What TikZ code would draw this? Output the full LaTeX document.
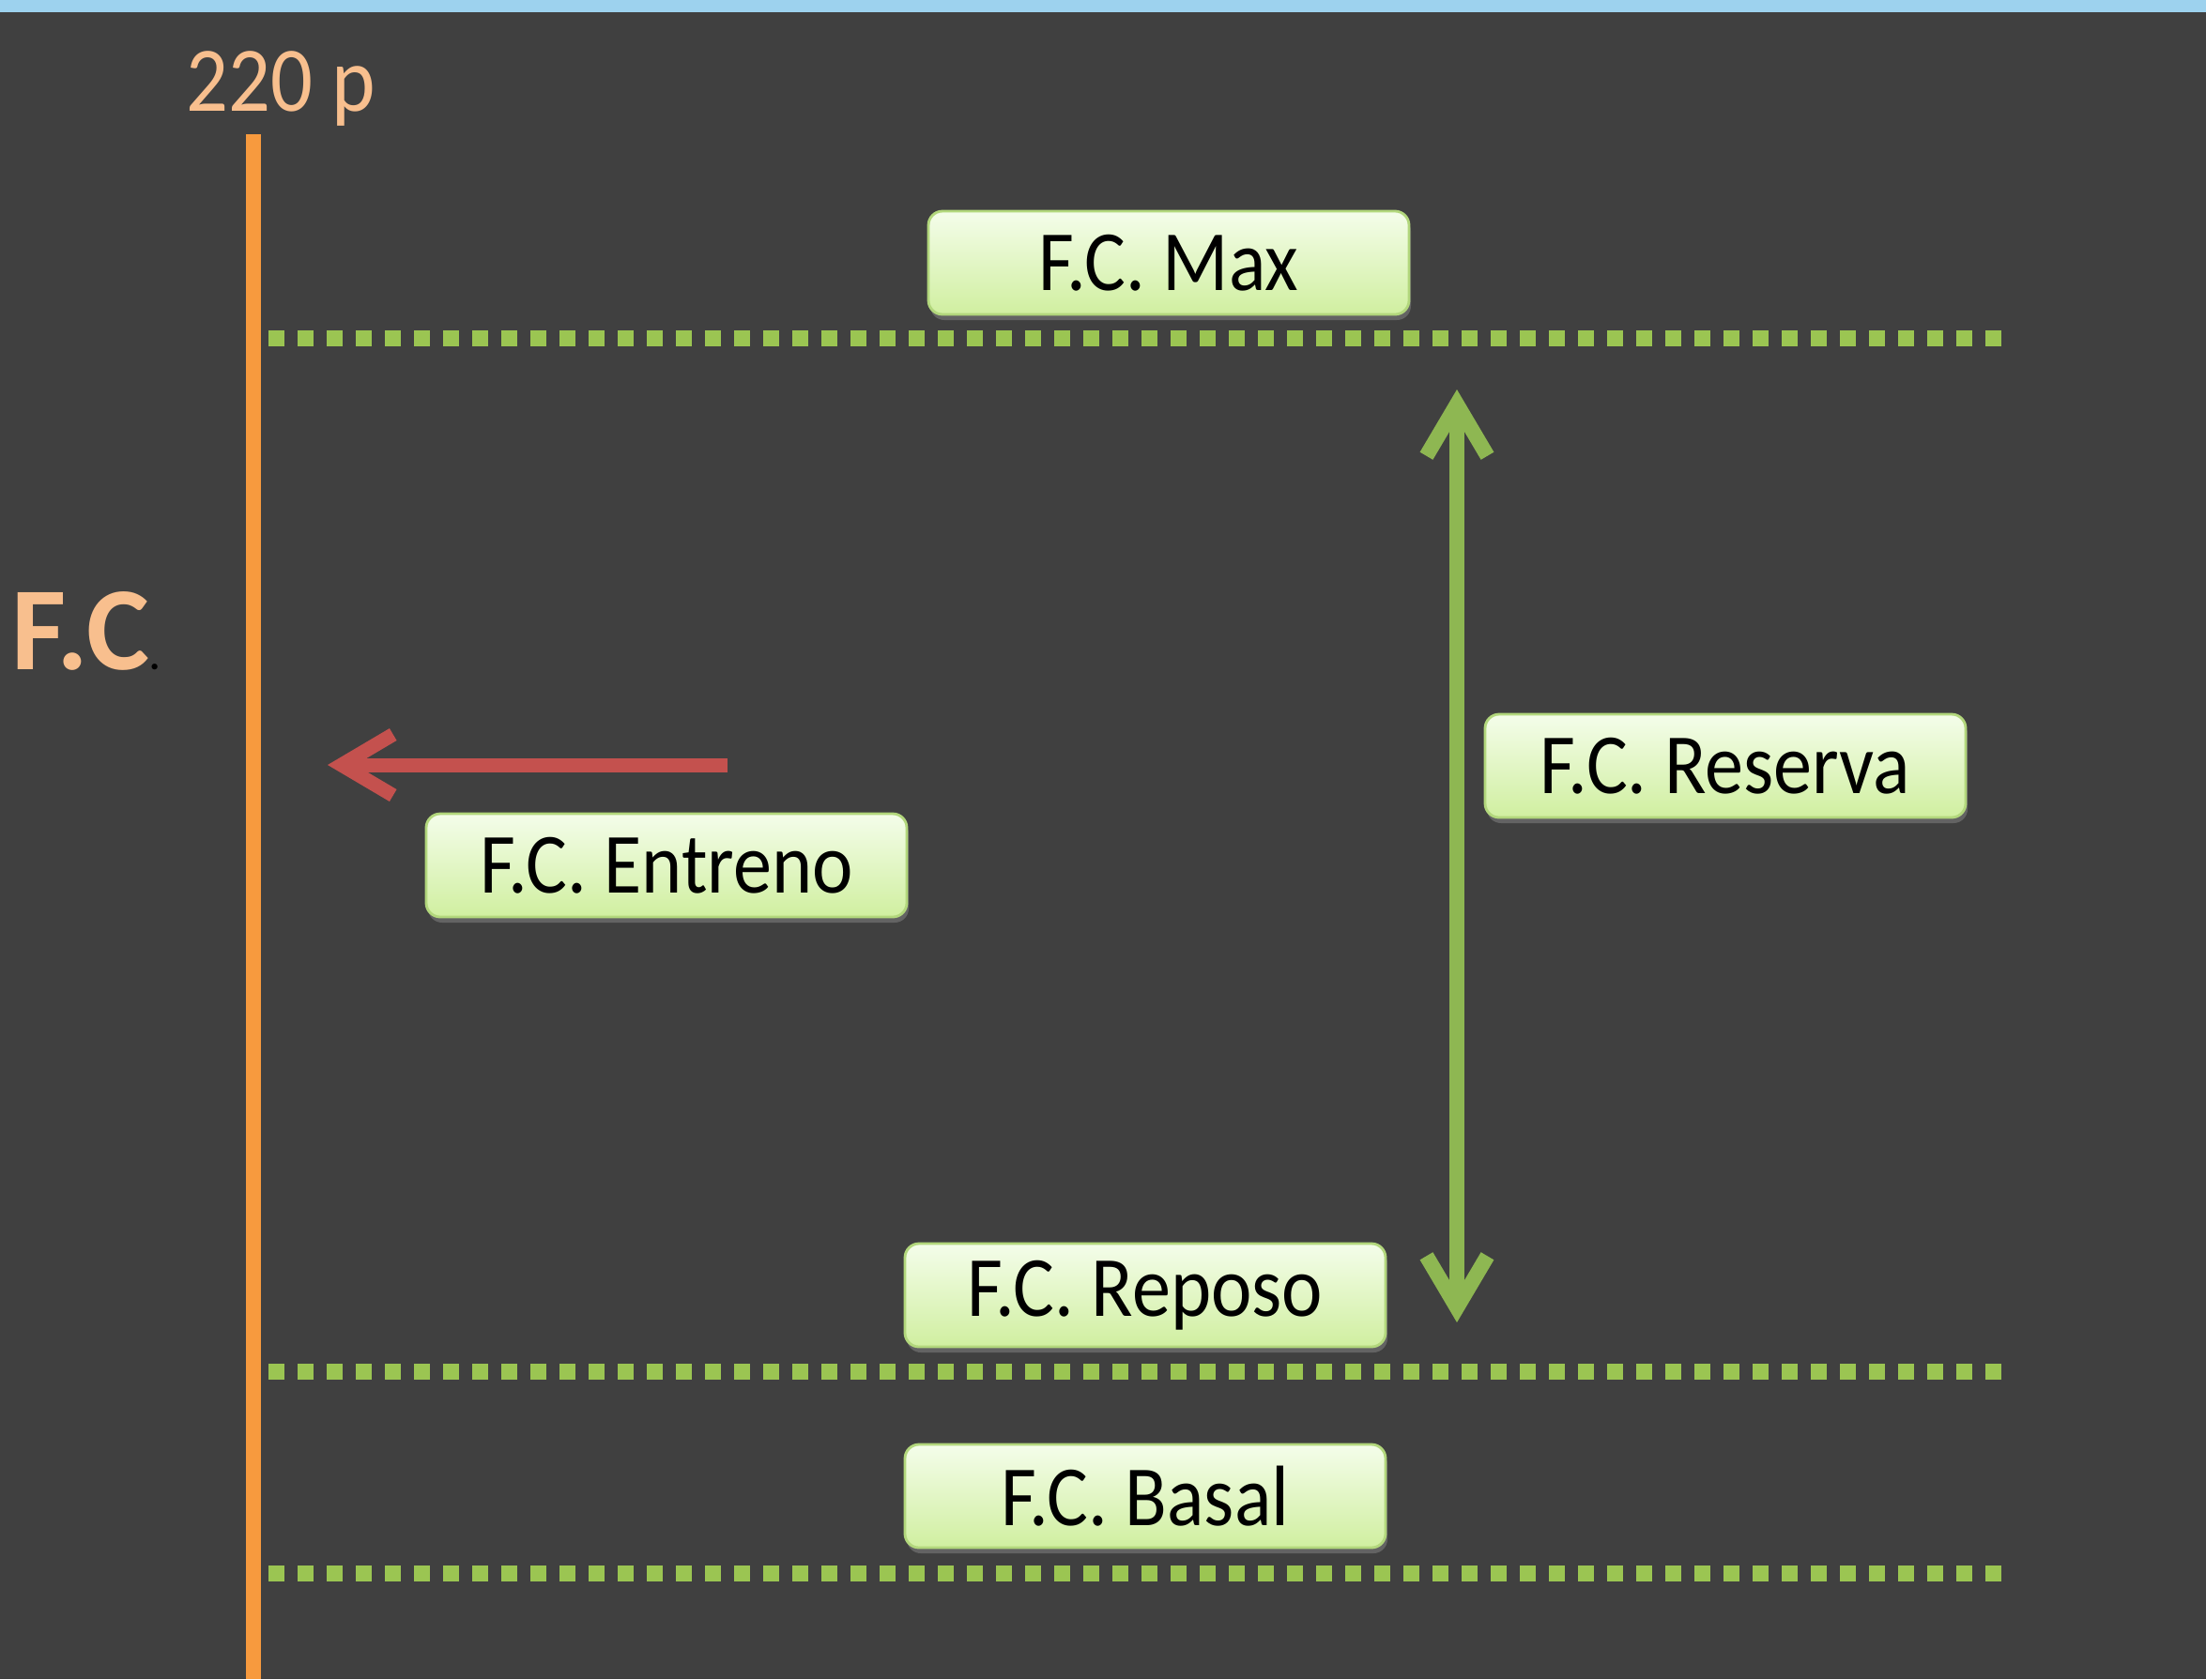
\documentclass[tikz,border=0pt]{standalone}
\usepackage{fontspec}
\setmainfont{Carlito}[FakeStretch=0.9]
\newfontfamily\axisfont{Carlito}
\usetikzlibrary{arrows.meta,shadows}

\definecolor{bgdark}{HTML}{404040}
\definecolor{topband}{HTML}{9DD2EE}
\definecolor{axisorange}{HTML}{F79A3E}
\definecolor{labelorange}{HTML}{F8BF8E}
\definecolor{dotgreen}{HTML}{9BC552}
\definecolor{arrowgreen}{HTML}{8EB752}
\definecolor{arrowred}{HTML}{C4514E}
\definecolor{boxtop}{HTML}{F4FDEA}
\definecolor{boxbot}{HTML}{D0EFA0}
\definecolor{boxline}{HTML}{B2D77C}

\begin{document}
\begin{tikzpicture}[
    fcbox/.style={draw=boxline, line width=0.8pt, rounded corners=0.15cm,
        top color=boxtop, bottom color=boxbot,
        minimum width=5.12cm, minimum height=1.1cm, text=black,
        font=\fontsize{26}{30}\selectfont,
        drop shadow={shadow xshift=0.02cm, shadow yshift=-0.06cm, opacity=0.55}},
    level/.style={draw=dotgreen, line width=0.17cm, dash pattern=on 0.17cm off 0.14cm}
]
    % fondo
    \fill[bgdark] (0,0) rectangle (23.5,-17.89);
    \fill[topband] (0,0) rectangle (23.5,-0.13);
    \useasboundingbox (0,0) rectangle (23.5,-17.89);

    % eje de la frecuencia cardiaca
    \coordinate (ejeTop) at (2.70,-1.43);
    \coordinate (ejeBot) at (2.70,-17.89);
    \draw[axisorange, line width=0.16cm] (ejeTop) -- (ejeBot);
    \node[text=labelorange, font=\fontsize{28}{30}\selectfont, anchor=base] (tope) at (2.99,-1.18) {220 p};
    \node[text=labelorange, font=\axisfont\fontsize{36}{40}\selectfont\bfseries, anchor=base west, inner sep=0pt] (fc) at (0.12,-7.13) {F.C{\color{black}\fontsize{12}{12}\selectfont.}};

    % niveles punteados
    \foreach \y/\n in {3.60/max, 14.61/rep, 16.76/bas} {
        \coordinate (\n L) at (2.86,-\y);
        \coordinate (\n R) at (21.43,-\y);
        \draw[level] (\n L) -- (\n R);
    }

    % etiquetas
    \node[fcbox] (max) at (12.45,-2.80) {F.C. Max};
    \node[fcbox] (entreno) at (7.10,-9.22) {F.C. Entreno};
    \node[fcbox] (reserva) at (18.38,-8.16) {F.C. Reserva};
    \node[fcbox] (reposo) at (12.20,-13.80) {F.C. Reposo};
    \node[fcbox] (basal) at (12.20,-15.94) {F.C. Basal};

    % flechas
    \coordinate (resTop) at (15.52,-4.15);
    \coordinate (resBot) at (15.52,-14.09);
    \draw[arrowgreen, line width=0.16cm,
        {Straight Barb[length=0.55cm, width=0.65cm]}-{Straight Barb[length=0.55cm, width=0.65cm]}] (resTop) -- (resBot);
    \coordinate (entA) at (7.75,-8.15);
    \coordinate (entB) at (3.49,-8.15);
    \draw[arrowred, line width=0.15cm, -{Straight Barb[length=0.55cm, width=0.65cm]}] (entA) -- (entB);
\end{tikzpicture}
\end{document}
